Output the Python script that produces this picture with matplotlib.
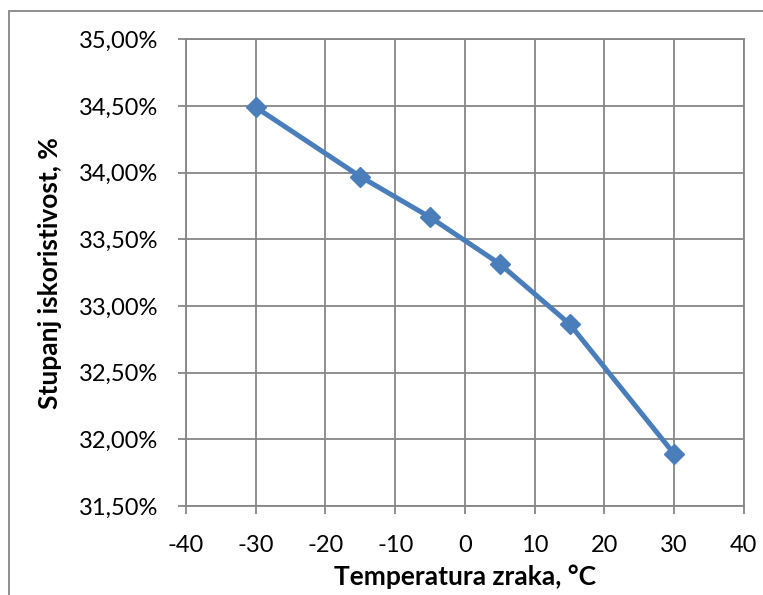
import matplotlib
matplotlib.use("Agg")
import matplotlib.pyplot as plt
from matplotlib.ticker import FuncFormatter, MultipleLocator
from matplotlib.patches import Rectangle

# podaci ocitani s grafa
temperatura = [-30, -15, -5, 5, 15, 30]
stupanj = [34.49, 33.97, 33.665, 33.315, 32.865, 31.89]

plt.rcParams['font.family'] = ['Lato', 'DejaVu Sans']
plt.rcParams['axes.unicode_minus'] = False

fig = plt.figure(figsize=(7.63, 5.95), dpi=100)
ax = fig.add_axes([0.2438, 0.1496, 0.7312, 0.7844])

grid_c = '#868686'
ax.plot(temperatura, stupanj, color='#4a7ebb', lw=3.6, marker='D', ms=10.5,
        zorder=3, clip_on=False)

ax.set_xlim(-40, 40)
ax.set_ylim(31.5, 35.0)
ax.xaxis.set_major_locator(MultipleLocator(10))
ax.yaxis.set_major_locator(MultipleLocator(0.5))
ax.yaxis.set_major_formatter(FuncFormatter(lambda v, p: ('%.2f%%' % v).replace('.', ',')))
ax.grid(True, color=grid_c, lw=1.3)
ax.set_axisbelow(True)
for s in ax.spines.values():
    s.set_color(grid_c)
    s.set_linewidth(1.3)
ax.tick_params(axis='both', direction='out', length=6, width=1.3, color=grid_c,
               labelsize=17)
ax.tick_params(axis='x', pad=15)
ax.tick_params(axis='y', pad=14)

ax.set_xlabel('Temperatura zraka, °C', fontsize=19, fontweight='bold', labelpad=6)
ax.set_ylabel('Stupanj iskoristivost, %', fontsize=19, fontweight='bold', labelpad=12)

# okvir grafikona
fig.patches.append(Rectangle((9 / 763, -0.01), 1.0, 1 - 11 / 595 + 0.01,
                             transform=fig.transFigure, fill=False,
                             edgecolor='#868686', lw=1.3))

fig.savefig('out.png', dpi=100)
